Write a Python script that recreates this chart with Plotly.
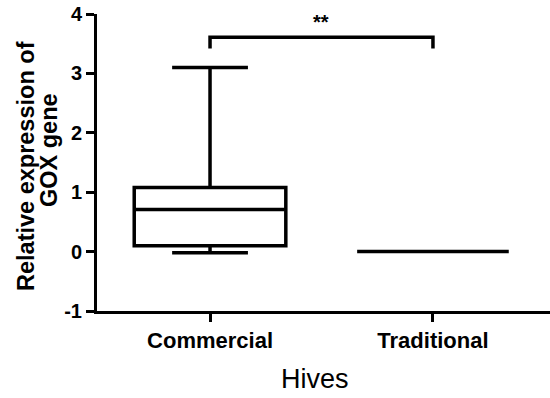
import plotly.graph_objects as go

# Data
categories = ["Commercial", "Traditional"]
q1_vals = [0.10, 0.0]
median_vals = [0.71, 0.0]
q3_vals = [1.08, 0.0]
lower_vals = [-0.02, 0.0]
upper_vals = [3.10, 0.0]
y_ticks = [-1, 0, 1, 2, 3, 4]
sig_label = "**"
sig_from, sig_to = 0, 1
sig_y, sig_drop = 3.61, 3.42
sig_text_y = 3.86

FONT = "Liberation Sans, Arial, Helvetica, sans-serif"

fig = go.Figure()
for i, c in enumerate(categories):
    fig.add_trace(go.Box(
        x=[c], q1=[q1_vals[i]], median=[median_vals[i]], q3=[q3_vals[i]],
        lowerfence=[lower_vals[i]], upperfence=[upper_vals[i]],
        width=0.68, whiskerwidth=0.5,
        line=dict(color="black", width=3.5),
        fillcolor="rgba(0,0,0,0)",
        boxpoints=False, showlegend=False, hoverinfo="skip",
    ))

fig.add_shape(type="path",
              path=f"M {sig_from},{sig_drop} L {sig_from},{sig_y} L {sig_to},{sig_y} L {sig_to},{sig_drop}",
              xref="x", yref="y", line=dict(color="black", width=3.5))
fig.add_annotation(x=(sig_from + sig_to) / 2, y=sig_text_y, xref="x", yref="y",
                   text=f"<b>{sig_label}</b>", showarrow=False,
                   font=dict(family=FONT, size=20, color="black"))

# y title as two rotated lines
fig.add_annotation(x=(26 - 97) / 453, y=(311 - 166) / 297, xref="paper", yref="paper",
                   text="<b>Relative expression of</b>", textangle=-90, showarrow=False,
                   xanchor="center", yanchor="middle",
                   font=dict(family=FONT, size=23.5, color="black"))
fig.add_annotation(x=(49 - 97) / 453, y=(311 - 150) / 297, xref="paper", yref="paper",
                   text="<b>GOX gene</b>", textangle=-90, showarrow=False,
                   xanchor="center", yanchor="middle",
                   font=dict(family=FONT, size=23.5, color="black"))
# x title
fig.add_annotation(x=(315 - 97) / 453, y=(311 - 379) / 297, xref="paper", yref="paper",
                   text="Hives", showarrow=False, xanchor="center", yanchor="middle",
                   font=dict(family=FONT, size=27, color="black"))

fig.update_layout(
    width=550, height=398,
    margin=dict(l=97, r=0, t=14, b=87),
    paper_bgcolor="white", plot_bgcolor="white",
    boxmode="overlay",
    font=dict(family=FONT, color="black"),
)
fig.update_xaxes(
    type="category", categoryorder="array", categoryarray=categories,
    range=[-0.507, 1.525],
    showline=True, linecolor="black", linewidth=3,
    ticks="outside", ticklen=8, tickwidth=3, tickcolor="black",
    tickfont=dict(family=FONT, size=22, color="black"),
    tickprefix="<b>", ticksuffix="</b>",
    showgrid=False, zeroline=False,
)
fig.update_yaxes(
    range=[-1, 4], tickvals=y_ticks, ticktext=[f"<b>{t}</b>" for t in y_ticks],
    showline=True, linecolor="black", linewidth=3,
    ticks="outside", ticklen=8, tickwidth=3, tickcolor="black",
    tickfont=dict(family=FONT, size=20, color="black"),
    showgrid=False, zeroline=False,
)

fig.write_html("out.html", config={"displayModeBar": False},
               post_script="document.body.style.margin='0';document.body.style.overflow='hidden';")
